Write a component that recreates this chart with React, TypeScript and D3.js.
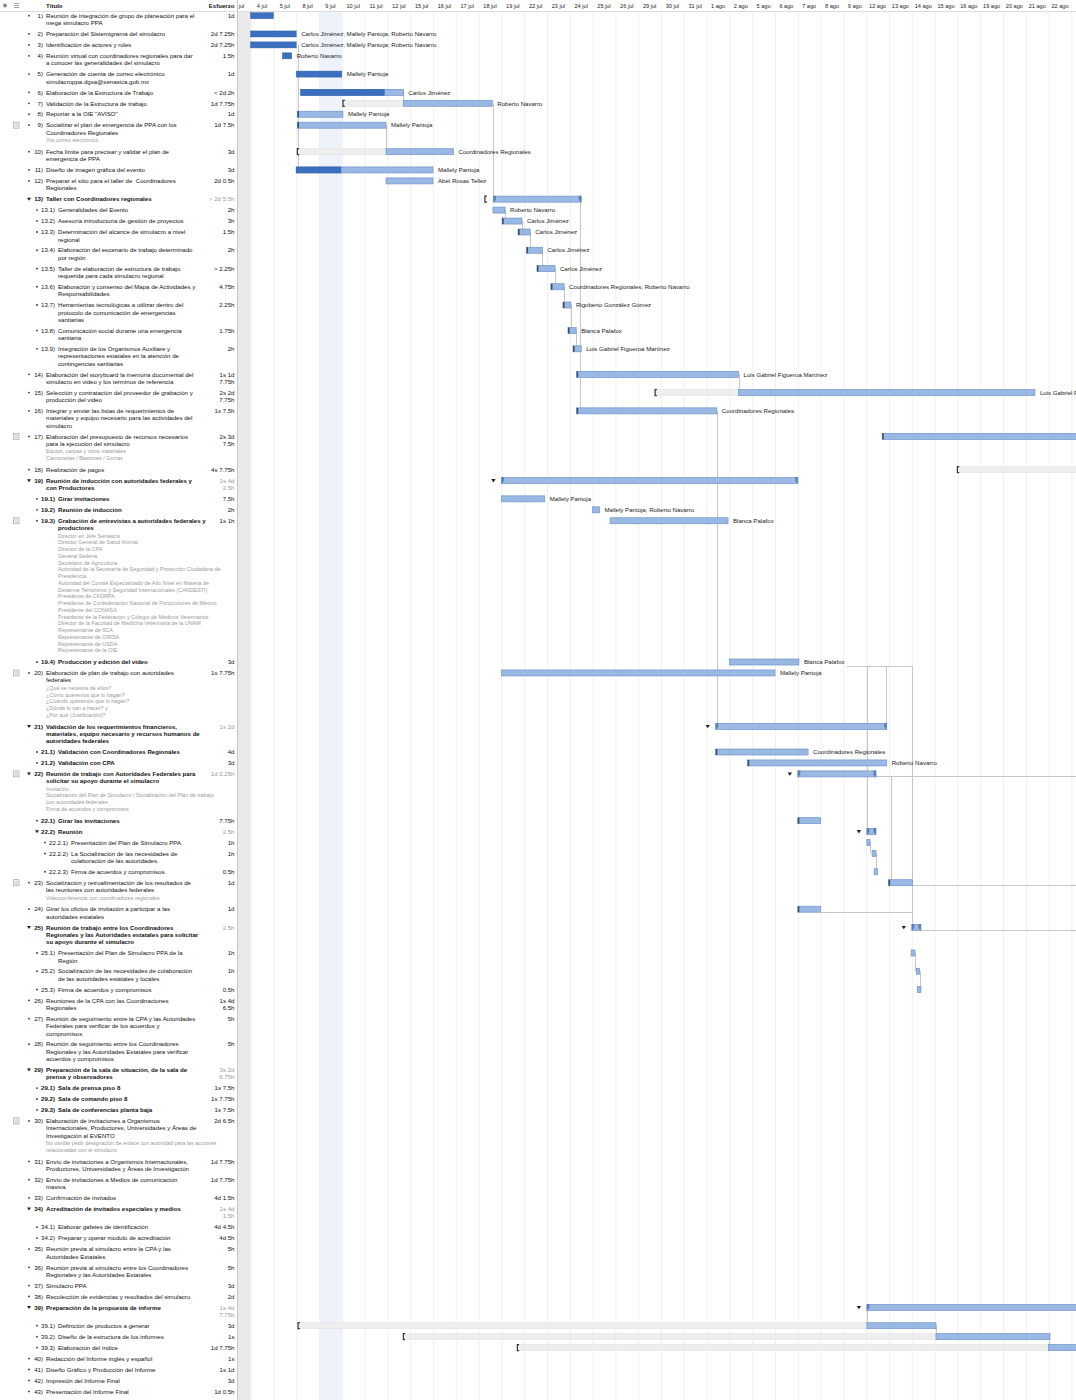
import React from "react";
import * as d3 from "d3";

// Working-day column labels (index 0 = 3 jul, partially hidden)
const dateLabels = ["3 jul","4 jul","5 jul","8 jul","9 jul","10 jul","11 jul","12 jul","15 jul","16 jul","17 jul","18 jul","19 jul","22 jul","23 jul","24 jul","25 jul","26 jul","29 jul","30 jul","31 jul","1 ago","2 ago","5 ago","6 ago","7 ago","8 ago","9 ago","12 ago","13 ago","14 ago","15 ago","16 ago","19 ago","20 ago","21 ago","22 ago"];
const todayIndex = 4; // 9 jul

// [id, title (| = line break), effort (| = line break)]
const taskRows: [string, string, string][] = [
  ["1", "Reunión de integración de grupo de planeación para el|mega simulacro PPA", "1d"],
  ["2", "Preparación del Sistemigrama del simulacro", "2d 7.25h"],
  ["3", "Identificación de actores y roles", "2d 7.25h"],
  ["4", "Reunión virtual con coordinadores regionales para dar|a conocer las generalidades del simulacro", "1.5h"],
  ["5", "Generación de cuenta de correo electrónico|simulacroppa.dgsa@senasica.gob.mx", "1d"],
  ["6", "Elaboración de la Estructura de Trabajo", "< 2d 2h"],
  ["7", "Validación de la Estructura de trabajo", "1d 7.75h"],
  ["8", "Reportar a la OIE \"AVISO\"", "1d"],
  ["9", "Socializar el plan de emergencia de PPA con los|Coordinadores Regionales", "1d 7.5h"],
  ["10", "Fecha límite para precisar y validar el plan de|emergencia de PPA", "3d"],
  ["11", "Diseño de imagen gráfica del evento", "3d"],
  ["12", "Preparar el sitio para el taller de  Coordinadores|Regionales", "2d 0.5h"],
  ["13", "Taller con Coordinadores regionales", "> 2d 5.5h"],
  ["13.1", "Generalidades del Evento", "2h"],
  ["13.2", "Asesoría introductoria de gestión de proyectos", "3h"],
  ["13.3", "Determinación del alcance de simulacro a nivel|regional", "1.5h"],
  ["13.4", "Elaboración del escenario de trabajo determinado|por región", "2h"],
  ["13.5", "Taller de elaboración de estructura de trabajo|requerida para cada simulacro regional", "> 2.25h"],
  ["13.6", "Elaboración y consenso del Mapa de Actividades y|Responsabilidades", "4.75h"],
  ["13.7", "Herramientas tecnológicas a utilizar dentro del|protocolo de comunicación de emergencias|sanitarias", "2.25h"],
  ["13.8", "Comunicación social durante una emergencia|sanitaria", "1.75h"],
  ["13.9", "Integración de los Organismos Auxiliare y|representaciones estatales en la atención de|contingencias sanitarias", "2h"],
  ["14", "Elaboración del storyboard la memoria documental del|simulacro en video y los términos de referencia", "1s 1d|7.75h"],
  ["15", "Selección y contratación del proveedor de grabación y|producción del video", "2s 2d|7.75h"],
  ["16", "Integrar y enviar las listas de requerimientos de|materiales y equipo necesario para las actividades del|simulacro", "1s 7.5h"],
  ["17", "Elaboración del presupuesto de recursos necesarios|para la ejecución del simulacro", "2s 3d|7.5h"],
  ["18", "Realización de pagos", "4s 7.75h"],
  ["19", "Reunión de inducción con autoridades federales y|con Productores", "1s 4d|2.5h"],
  ["19.1", "Girar invitaciones", "7.5h"],
  ["19.2", "Reunión de inducción", "2h"],
  ["19.3", "Grabación de entrevistas a autoridades federales y|productores", "1s 1h"],
  ["19.4", "Producción y edición del video", "3d"],
  ["20", "Elaboración de plan de trabajo con autoridades|federales", "1s 7.75h"],
  ["21", "Validación de los requerimientos financieros,|materiales, equipo necesario y recursos humanos de|autoridades federales", "1s 2d"],
  ["21.1", "Validación con Coordinadores Regionales", "4d"],
  ["21.2", "Validación con CPA", "3d"],
  ["22", "Reunión de trabajo con Autoridades Federales para|solicitar su apoyo durante el simulacro", "1d 2.25h"],
  ["22.1", "Girar las invitaciones", "7.75h"],
  ["22.2", "Reunión", "2.5h"],
  ["22.2.1", "Presentación del Plan de Simulacro PPA", "1h"],
  ["22.2.2", "La Socialización de las necesidades de|colaboración de las autoridades.", "1h"],
  ["22.2.3", "Firma de acuerdos y compromisos.", "0.5h"],
  ["23", "Socialización y retroalimentación de los resultados de|las reuniones con autoridades federales", "1d"],
  ["24", "Girar los oficios de invitación a participar a las|autoridades estatales", "1d"],
  ["25", "Reunión de trabajo entre los Coordinadores|Regionales y las Autoridades estatales para solicitar|su apoyo durante el simulacro", "2.5h"],
  ["25.1", "Presentación del Plan de Simulacro PPA de la|Región", "1h"],
  ["25.2", "Socialización de las necesidades de colaboración|de las autoridades estatales y locales", "1h"],
  ["25.3", "Firma de acuerdos y compromisos", "0.5h"],
  ["26", "Reuniones de la CPA con las Coordinaciones|Regionales", "1s 4d|6.5h"],
  ["27", "Reunión de seguimiento entre la CPA y las Autoridades|Federales para verificar de los acuerdos y|compromisos", "5h"],
  ["28", "Reunión de seguimiento entre los Coordinadores|Regionales y las Autoridades Estatales para verificar|acuerdos y compromisos", "5h"],
  ["29", "Preparación de la sala de situación, de la sala de|prensa y observadores", "3s 2d|6.75h"],
  ["29.1", "Sala de prensa piso 8", "1s 7.5h"],
  ["29.2", "Sala de comando piso 8", "1s 7.75h"],
  ["29.3", "Sala de conferencias planta baja", "1s 7.5h"],
  ["30", "Elaboración de invitaciones a Organismos|Internacionales, Productores, Universidades y Áreas de|Investigación al EVENTO", "2d 6.5h"],
  ["31", "Envío de invitaciones a Organismos Internacionales,|Productores, Universidades y Áreas de Investigación", "1d 7.75h"],
  ["32", "Envío de invitaciones a Medios de comunicación|masiva.", "1d 7.75h"],
  ["33", "Confirmación de invitados", "4d 1.5h"],
  ["34", "Acreditación de invitados especiales y medios", "1s 4d|1.5h"],
  ["34.1", "Elaborar gafetes de identificación", "4d 4.5h"],
  ["34.2", "Preparar y operar modulo de acreditación", "4d 5h"],
  ["35", "Reunión previa al simulacro entre la CPA y las|Autoridades Estatales", "5h"],
  ["36", "Reunión previa al simulacro entre los Coordinadores|Regionales y las Autoridades Estatales", "5h"],
  ["37", "Simulacro PPA", "3d"],
  ["38", "Recolección de evidencias y resultados del simulacro", "2d"],
  ["39", "Preparación de la propuesta de informe", "1s 4d|7.75h"],
  ["39.1", "Definición de productos a generar", "3d"],
  ["39.2", "Diseño de la estructura de los informes", "1s"],
  ["39.3", "Elaboración del índice", "1d 7.75h"],
  ["40", "Redacción del Informe inglés y español", "1s"],
  ["41", "Diseño Gráfico y Producción del Informe", "1s 1d"],
  ["42", "Impresión del Informe Final", "3d"],
  ["43", "Presentación del Informe Final", "1d 0.5h"],
];

const summaryIds = ["13", "19", "21", "22", "22.2", "25", "29", "34", "39"];
const boldIds = ["13", "19", "19.1", "19.2", "19.3", "19.4", "21", "21.1", "21.2", "22", "22.1", "22.2", "25", "29", "29.1", "29.2", "29.3", "34", "39"];
const noteIconIds = ["9", "17", "19.3", "20", "22", "23", "30"];

const taskNotes: Record<string, string[]> = {
  "9": ["Vía correo electrónico"],
  "17": ["Equipo, carpas y otros materiales", "Camionetas / Bastones / Gorras"],
  "19.3": [
    "Director en Jefe Senasica",
    "Director General de Salud Animal",
    "Director de la CPA",
    "General Sedena",
    "Secretario de Agricultura",
    "Autoridad de la Secretaría de Seguridad y Protección Ciudadana de",
    "Presidencia",
    "Autoridad del Comité Especializado de Alto Nivel en Materia de",
    "Desarme Terrorismo y Seguridad Internacionales (CANDESTI)",
    "Presidente de CFORPA",
    "Presidente de Confederación Nacional de Porcicultores de México",
    "Presidente del CONASA",
    "Presidente de la Federación y Colegio de Médicos Veterinarios",
    "Director de la Facultad de Medicina Veterinaria de la UNAM",
    "Representante de IICA",
    "Representante de OIRSA",
    "Representante de USDA",
    "Representante de la OIE",
  ],
  "20": ["¿Qué se necesita de ellos?", "¿Cómo queremos que lo hagan?", "¿Cuándo queremos que lo hagan?", "¿Dónde lo van a hacer? y", "¿Por qué (Justificación)?"],
  "22": ["Invitación", "Socialización del Plan de Simulacro / Socialización del Plan de trabajo", "con autoridades federales", "Firma de acuerdos y compromisos"],
  "23": ["Videoconferencia con coordinadores regionales"],
  "30": ["No olvidar pedir designación de enlace con autoridad para las acciones", "relacionadas con el simulacro"],
};

// Bars in working-day units (0 = start of 4 jul)
const barSpans: [string, number, number][] = [
  ["1", 0, 1], ["2", 0, 2], ["3", 0, 2], ["4", 1.4, 1.8], ["5", 2.0, 4.0],
  ["6", 2.2, 6.7], ["7", 6.7, 10.6], ["8", 2.05, 4.05], ["9", 2.05, 5.94],
  ["10", 5.94, 8.9], ["11", 2.0, 8.0], ["12", 5.94, 8.0],
  ["13.1", 10.63, 11.16], ["13.2", 11.03, 11.9], ["13.3", 11.73, 12.26], ["13.4", 12.1, 12.8],
  ["13.5", 12.56, 13.35], ["13.6", 13.17, 13.75], ["13.7", 13.7, 14.05], ["13.8", 13.92, 14.28],
  ["13.9", 14.14, 14.5], ["14", 14.3, 21.4], ["15", 21.4, 34.4], ["16", 14.3, 20.45],
  ["17", 27.7, 40], ["19.1", 11.0, 12.9], ["19.2", 15.0, 15.3], ["19.3", 15.77, 20.94],
  ["19.4", 21.0, 24.05], ["20", 11.0, 23.0], ["21.1", 20.4, 24.45], ["21.2", 21.8, 27.9],
  ["22.1", 24.0, 25.0], ["22.2.1", 27.03, 27.17], ["22.2.2", 27.26, 27.43], ["22.2.3", 27.35, 27.5],
  ["23", 27.98, 29.03], ["24", 24.0, 25.0], ["25.1", 28.97, 29.14], ["25.2", 29.2, 29.34],
  ["25.3", 29.25, 29.4], ["39.1", 27.03, 30.06], ["39.2", 30.06, 35.06], ["39.3", 35.0, 40],
];
const summarySpans: [string, number, number][] = [
  ["13", 10.65, 14.5], ["19", 11.0, 24.0], ["21", 20.4, 27.9], ["22", 24.0, 27.43],
  ["22.2", 27.03, 27.43], ["25", 29.0, 29.4], ["39", 27.03, 40],
];
const doneEnds: Record<string, number> = { "1": 1, "2": 2, "3": 2, "4": 1.8, "5": 4.0, "6": 5.86, "11": 3.96 };
const baselineStarts: Record<string, [number, number]> = {
  "7": [4.05, 6.7], "10": [2.05, 5.94], "15": [17.74, 21.4], "18": [31.0, 40],
  "39.1": [2.08, 27.03], "39.2": [6.7, 30.06], "39.3": [11.7, 35.0],
};
const leftMarks = ["8", "9", "13.2", "13.3", "13.4", "13.5", "13.6", "13.7", "13.8", "13.9", "14", "16", "17", "21.1", "21.2", "22.1", "24", "23"];
const resources: Record<string, string> = {
  "2": "Carlos Jiménez; Mallely Pantoja; Roberto Navarro",
  "3": "Carlos Jiménez; Mallely Pantoja; Roberto Navarro",
  "4": "Roberto Navarro", "5": "Mallely Pantoja", "6": "Carlos Jiménez", "7": "Roberto Navarro",
  "8": "Mallely Pantoja", "9": "Mallely Pantoja", "10": "Coordinadores Regionales",
  "11": "Mallely Pantoja", "12": "Abel Rosas Tellez",
  "13.1": "Roberto Navarro", "13.2": "Carlos Jiménez", "13.3": "Carlos Jiménez", "13.4": "Carlos Jiménez",
  "13.5": "Carlos Jiménez", "13.6": "Coordinadores Regionales; Roberto Navarro",
  "13.7": "Rigoberto González Gómez", "13.8": "Blanca Palafox", "13.9": "Luis Gabriel Figueroa Martínez",
  "14": "Luis Gabriel Figueroa Martínez", "15": "Luis Gabriel Figueroa Martínez",
  "16": "Coordinadores Regionales", "19.1": "Mallely Pantoja", "19.2": "Mallely Pantoja; Roberto Navarro",
  "19.3": "Blanca Palafox", "19.4": "Blanca Palafox", "20": "Mallely Pantoja",
  "21.1": "Coordinadores Regionales", "21.2": "Roberto Navarro",
};
// dependency lines: vertical [dayUnit, fromRow, toRow, startOffset]; horizontal [fromDay, toDay, row, offset]
const verticalLinks: [number, string, string, number][] = [
  [2.08, "3", "11", 0], [6.7, "6", "7", 0], [5.94, "9", "10", 0], [10.65, "7", "13", 0],
  [11.16, "13.1", "13.2", 0], [11.9, "13.2", "13.3", 0], [12.26, "13.3", "13.4", 0], [12.8, "13.4", "13.5", 0],
  [13.35, "13.5", "13.6", 0], [13.75, "13.6", "13.7", 0], [14.05, "13.7", "13.8", 0], [14.28, "13.8", "13.9", 0],
  [14.45, "13", "16", 0], [21.4, "14", "15", 0], [20.45, "16", "21", 0],
  [27.03, "19.4", "22.2", 4], [27.85, "19.4", "21", 4], [29.0, "19.4", "25", 4], [28.1, "22", "23", 2.5],
  [27.17, "22.2.1", "22.2.2", 0], [27.43, "22.2.2", "22.2.3", 0], [29.14, "25.1", "25.2", 0], [29.34, "25.2", "25.3", 0],
  [27.03, "39", "39.1", 0], [30.06, "39.1", "39.2", 0], [35.0, "39.2", "39.3", 0],
];
const horizontalLinks: [number, number, string, number][] = [
  [26.16, 29.0, "19.4", 4], [27.43, 40, "22", 2.5], [29.03, 40, "23", 2.5], [25.0, 29.0, "24", 2.5], [29.4, 40, "25", 2.5],
];

const FONT = "'Liberation Sans', Arial, Helvetica, sans-serif";
const FS = 6.1;
const W = 1076;
const H = 1400;
const PANEL = 237.5;
const ROW_H = 10.95;
const LINE_H = 7.3;
const NOTE_H = 6.75;

export default function App() {
  const x = d3.scaleLinear().domain([-1, 36]).range([227.8, 1071.4]);

  // row layout
  let yCursor = 10.3;
  const layout: Record<string, { top: number; c: number }> = {};
  const rows = taskRows.map(([id, title, effort]) => {
    const tl = title.split("|");
    const el = effort.split("|");
    const notes = taskNotes[id] || [];
    const lines = Math.max(tl.length, el.length);
    const h = ROW_H + LINE_H * (lines - 1) + (notes.length ? 1.5 + NOTE_H * notes.length : 0);
    const top = yCursor;
    yCursor += h;
    const c = top + 5.4;
    layout[id] = { top, c };
    const level = id.split(".").length - 1;
    return { id, tl, el, notes, top, c, level };
  });

  const cy = (id: string) => layout[id].c;
  const colBounds = d3.range(-1, 37);

  return (
    <svg width={W} height={H} style={{ position: "absolute", left: 0, top: 0, background: "#fff" }} fontFamily={FONT}>
      <defs>
        <clipPath id="chartClip">
          <rect x={PANEL + 0.5} y={0} width={W - PANEL} height={H} />
        </clipPath>
      </defs>
      <rect x={0} y={0} width={W} height={H} fill="#fff" />

      {/* chart background */}
      <g clipPath="url(#chartClip)">
        <rect x={x(-1)} y={11} width={x(0) - x(-1)} height={H - 11} fill="#e9e9e9" />
        <rect x={x(todayIndex - 1)} y={11} width={x(todayIndex) - x(todayIndex - 1)} height={H - 11} fill="#eef3fb" />
        {colBounds.map((u) => (
          <line key={"g" + u} x1={x(u) + 0.5} x2={x(u) + 0.5} y1={11} y2={H} stroke="#f0f0f0" strokeWidth={1} />
        ))}
        {dateLabels.map((d, i) => (
          <text key={"d" + i} x={(x(i - 1) + x(i)) / 2} y={7.6} fontSize={5.6} textAnchor="middle" fill="#222">{d}</text>
        ))}
        <line x1={PANEL} x2={W} y1={11.5} y2={11.5} stroke="#dcdcdc" />

        {/* links */}
        {verticalLinks.map(([u, a, b, dy], i) => (
          <line key={"vl" + i} x1={Math.round(x(u)) + 0.5} x2={Math.round(x(u)) + 0.5} y1={cy(a) + dy} y2={cy(b)} stroke="#c6c6c6" strokeWidth={1} />
        ))}
        {horizontalLinks.map(([u0, u1, r, dy], i) => (
          <line key={"hl" + i} x1={x(u0)} x2={x(u1)} y1={Math.round(cy(r) + dy) + 0.5} y2={Math.round(cy(r) + dy) + 0.5} stroke="#c6c6c6" strokeWidth={1} />
        ))}

        {/* baselines */}
        {Object.entries(baselineStarts).map(([id, [u0, u1]]) => {
          const c = cy(id);
          const x0 = x(u0);
          return (
            <g key={"b" + id}>
              <rect x={x0} y={c - 3} width={x(u1) - x0} height={6} fill="#eeeeee" stroke="#e1e1e1" strokeWidth={0.6} />
              <path d={`M${x0 + 1.8},${c - 3} h-1.8 v6 h1.8`} fill="none" stroke="#333" strokeWidth={1.2} />
            </g>
          );
        })}

        {/* task bars */}
        {barSpans.map(([id, u0, u1]) => {
          const c = cy(id);
          const x0 = x(u0);
          const x1 = x(u1);
          const done = doneEnds[id];
          const allDone = done !== undefined && done >= u1;
          return (
            <g key={"bar" + id}>
              {!allDone && (
                <rect x={x0} y={c - 3} width={x1 - x0} height={6} fill="#9ab8e4" stroke="#6f94cb" strokeWidth={0.7} />
              )}
              {done !== undefined && (
                <rect x={x0} y={c - 3} width={x(done) - x0} height={6} fill="#3b6fbf" stroke="#30609f" strokeWidth={0.5} />
              )}
              {leftMarks.includes(id) && (
                <rect x={x0} y={c - 3} width={1.6} height={6} fill="#3a4f70" />
              )}
              {resources[id] && (
                <text x={x1 + 5} y={c + 2.2} fontSize={FS} fill="#222">{resources[id]}</text>
              )}
            </g>
          );
        })}

        {/* summary bars */}
        {summarySpans.map(([id, u0, u1]) => {
          const c = cy(id);
          const x0 = x(u0);
          const x1 = x(u1);
          const mx = x0 - 8;
          return (
            <g key={"s" + id}>
              <rect x={x0} y={c - 3} width={x1 - x0} height={6} fill="#9cb9e4" stroke="#6f93c9" strokeWidth={0.7} />
              <path d={`M${x0},${c - 3.5} h2.5 v4 l-2.5,3 Z`} fill="#5a80bb" />
              <path d={`M${x1},${c - 3.5} h-2.5 v4 l2.5,3 Z`} fill="#5a80bb" />
              {id === "13" ? (
                <path d={`M${mx + 1.5},${c - 3} h-2 v6 h2`} fill="none" stroke="#333" strokeWidth={1.2} />
              ) : (
                <path d={`M${mx - 2.2},${c - 1.5} L${mx + 2.2},${c - 1.5} L${mx},${c + 1.8} Z`} fill="#222" />
              )}
            </g>
          );
        })}
      </g>

      {/* left panel */}
      <line x1={PANEL} x2={PANEL} y1={0} y2={H} stroke="#c8c8c8" />
      <line x1={0} x2={PANEL} y1={11.5} y2={11.5} stroke="#dcdcdc" />
      <circle cx={5} cy={5.5} r={2} fill="#8a8a8a" />
      <g stroke="#8a8a8a" strokeWidth={0.8}>
        <line x1={14} x2={19} y1={3.5} y2={3.5} />
        <line x1={14} x2={19} y1={5.5} y2={5.5} />
        <line x1={14} x2={19} y1={7.5} y2={7.5} />
      </g>
      <text x={46} y={7.6} fontSize={FS} fontWeight="bold" fill="#111">Título</text>
      <text x={234.5} y={7.6} fontSize={FS} fontWeight="bold" fill="#111" textAnchor="end">Esfuerzo</text>

      {rows.map((r) => {
        const isSum = summaryIds.includes(r.id);
        const bold = boldIds.includes(r.id);
        const bx = 29 + 8 * r.level;
        const titleX = [46, 58, 71][r.level];
        const base = r.top + 7.6;
        const lastTitle = base + LINE_H * (r.tl.length - 1);
        return (
          <g key={"row" + r.id}>
            {isSum ? (
              <path d={`M${bx - 2},${r.c - 1.4} L${bx + 2},${r.c - 1.4} L${bx},${r.c + 1.6} Z`} fill="#222" />
            ) : (
              <circle cx={bx} cy={r.c} r={0.9} fill="#333" />
            )}
            {r.level === 0 ? (
              <text x={43} y={base} fontSize={FS} textAnchor="end" fill="#111" fontWeight={bold ? "bold" : "normal"}>{r.id})</text>
            ) : (
              <text x={bx + 4} y={base} fontSize={FS} fill="#111" fontWeight={bold ? "bold" : "normal"}>{r.id})</text>
            )}
            {r.tl.map((t, k) => (
              <text key={k} x={titleX} y={base + LINE_H * k} fontSize={FS} fill="#111" fontWeight={bold ? "bold" : "normal"} style={{ whiteSpace: "pre" }}>{t}</text>
            ))}
            {r.el.map((t, k) => (
              <text key={"e" + k} x={234.5} y={base + LINE_H * k} fontSize={FS} textAnchor="end" fill={isSum ? "#9a9a9a" : "#111"}>{t}</text>
            ))}
            {r.notes.map((t, k) => (
              <text key={"n" + k} x={titleX} y={lastTitle + 7.3 + NOTE_H * k} fontSize={5.4} fill="#9a9a9a">{t}</text>
            ))}
            {noteIconIds.includes(r.id) && (
              <g>
                <rect x={13.5} y={r.c - 3} width={5.5} height={6} fill="#f3f3f3" stroke="#9a9a9a" strokeWidth={0.6} />
                <line x1={14.8} x2={17.8} y1={r.c - 1} y2={r.c - 1} stroke="#9a9a9a" strokeWidth={0.5} />
                <line x1={14.8} x2={17.8} y1={r.c + 1} y2={r.c + 1} stroke="#9a9a9a" strokeWidth={0.5} />
              </g>
            )}
          </g>
        );
      })}
    </svg>
  );
}
